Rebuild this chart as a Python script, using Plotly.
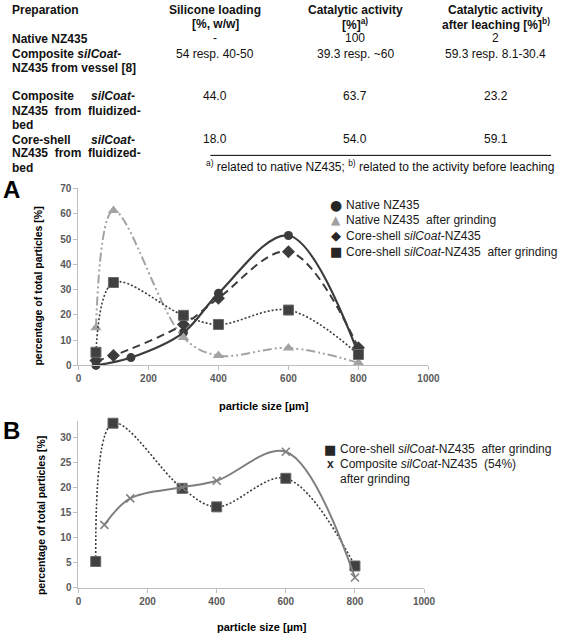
import plotly.graph_objects as go

W, H = 567, 640
FONT = "Arial, 'Liberation Sans', sans-serif"
SYMFONT = "'DejaVu Sans', sans-serif"

# ---------------- data ----------------
# Table
table_header1 = ["Preparation", "Silicone loading", "Catalytic activity", "Catalytic activity"]
table_header2 = ["", "[%, w/w]", "[%]<sup>a)</sup>", "after leaching [%]<sup>b)</sup>"]
silicone_loading = ["-", "54 resp. 40-50", "44.0", "18.0"]
catalytic_activity = ["100", "39.3 resp. ~60", "63.7", "54.0"]
activity_after_leaching = ["2", "59.3 resp. 8.1-30.4", "23.2", "59.1"]
footnote = "<sup>a)</sup> related to native NZ435; <sup>b)</sup> related to the activity before leaching"

# Chart A
native_x = [50, 150, 300, 400, 600, 800]
native_y = [0, 3.1, 13.0, 28.5, 51.4, 4.5]
native_ground_x = [50, 100, 300, 400, 600, 800]
native_ground_y = [14.9, 61.3, 11.0, 3.9, 6.9, 1.0]
coreshell_x = [50, 100, 300, 400, 600, 800]
coreshell_y = [1.9, 3.9, 16.2, 26.6, 45.0, 7.0]
coreshell_ground_x = [50, 100, 300, 400, 600, 800]
coreshell_ground_y = [5.2, 32.8, 19.8, 16.2, 21.9, 4.3]

# Chart B
b_coreshell_ground_x = [50, 100, 300, 400, 600, 800]
b_coreshell_ground_y = [5.2, 32.8, 19.8, 16.1, 21.8, 4.3]
b_composite_ground_x = [75, 150, 300, 400, 600, 800]
b_composite_ground_y = [12.5, 17.8, 20.0, 21.3, 27.1, 2.0]

x_ticks = [0, 200, 400, 600, 800, 1000]
a_y_ticks = [0, 10, 20, 30, 40, 50, 60, 70]
b_y_ticks = [0, 5, 10, 15, 20, 25, 30]

legend_a_names = ["Native NZ435", "Native NZ435  after grinding",
                  "Core-shell <i>silCoat</i>-NZ435", "Core-shell <i>silCoat</i>-NZ435  after grinding"]
legend_b_names = ["Core-shell <i>silCoat</i>-NZ435  after grinding",
                  "Composite <i>silCoat</i>-NZ435  (54%)"]
legend_b_extra = "after grinding"

# ---------------- helpers ----------------
def px(x):
    return x / W

def py(y):
    return 1 - y / H

DARK = "#3c3c3c"
LIGHT = "#a3a3a3"
MID = "#7f7f7f"

fig = go.Figure()

# Chart A traces
fig.add_trace(go.Scatter(x=native_x, y=native_y, mode="lines+markers", name=legend_a_names[0],
                         line=dict(color=DARK, width=2.2, shape="spline", smoothing=1),
                         marker=dict(symbol="circle", size=9, color=DARK),
                         showlegend=False, cliponaxis=False, xaxis="x", yaxis="y"))
fig.add_trace(go.Scatter(x=native_ground_x, y=native_ground_y, mode="lines+markers", name=legend_a_names[1],
                         line=dict(color=LIGHT, width=2, shape="spline", smoothing=1,
                                   dash="9px,3px,2px,3px,2px,3px"),
                         marker=dict(symbol="triangle-up", size=10, color=LIGHT),
                         showlegend=False, cliponaxis=False, xaxis="x", yaxis="y"))
fig.add_trace(go.Scatter(x=coreshell_x, y=coreshell_y, mode="lines+markers", name=legend_a_names[2],
                         line=dict(color=DARK, width=2, shape="spline", smoothing=1, dash="8px,5px"),
                         marker=dict(symbol="diamond", size=10, color=DARK),
                         showlegend=False, cliponaxis=False, xaxis="x", yaxis="y"))
fig.add_trace(go.Scatter(x=coreshell_ground_x, y=coreshell_ground_y, mode="lines+markers", name=legend_a_names[3],
                         line=dict(color=DARK, width=1.6, shape="spline", smoothing=1, dash="2px,2px"),
                         marker=dict(symbol="square", size=10, color="#404040",
                                     line=dict(color="#6a6a6a", width=1)),
                         showlegend=False, cliponaxis=False, xaxis="x", yaxis="y"))

# Chart B traces
fig.add_trace(go.Scatter(x=b_coreshell_ground_x, y=b_coreshell_ground_y, mode="lines+markers",
                         name=legend_b_names[0],
                         line=dict(color=DARK, width=1.6, shape="spline", smoothing=1, dash="2px,2px"),
                         marker=dict(symbol="square", size=10, color="#404040",
                                     line=dict(color="#6a6a6a", width=1)),
                         showlegend=False, cliponaxis=False, xaxis="x2", yaxis="y2"))
fig.add_trace(go.Scatter(x=b_composite_ground_x, y=b_composite_ground_y, mode="lines+markers",
                         name=legend_b_names[1],
                         line=dict(color=MID, width=2, shape="spline", smoothing=1),
                         marker=dict(symbol="x-thin", size=8, color=MID, line=dict(color=MID, width=1.5)),
                         showlegend=False, cliponaxis=False, xaxis="x2", yaxis="y2"))

axis_common = dict(showline=True, linecolor="#bfbfbf", linewidth=1, showgrid=False, zeroline=False,
                   ticks="outside", ticklen=4, tickcolor="#bfbfbf",
                   tickfont=dict(family=FONT, size=10, color="#5a5a5a", weight="bold"))

fig.update_layout(
    width=W, height=H,
    margin=dict(l=0, r=0, t=0, b=0),
    paper_bgcolor="white", plot_bgcolor="white",
    showlegend=False,
    xaxis=dict(domain=[px(77.5), px(437)], range=[0, 1000], tickvals=x_ticks, anchor="y", **axis_common),
    yaxis=dict(domain=[py(366.7), py(186.7)], range=[0, 70], tickvals=a_y_ticks, anchor="x", **axis_common),
    xaxis2=dict(domain=[px(77.5), px(432.5)], range=[0, 1000], tickvals=x_ticks, anchor="y2", **axis_common),
    yaxis2=dict(domain=[py(592.7), py(423.5)], range=[0, 33.2], tickvals=b_y_ticks, anchor="x2", **axis_common),
)

ann = []

def text(x, y, s, size=12, bold=False, anchor="center", color="#111111", family=FONT):
    ann.append(dict(x=px(x), y=py(y), xref="paper", yref="paper", text=s, showarrow=False,
                    xanchor=anchor, yanchor="middle",
                    font=dict(family=family, size=size, color=color, weight="bold" if bold else "normal")))

# Table header
col_x = [7, 218, 362, 506]
text(col_x[0], 5.5, table_header1[0], bold=True, anchor="left")
for i in (1, 2, 3):
    text(col_x[i], 5.5, table_header1[i], bold=True)
    text(col_x[i], 19.5, table_header2[i], bold=True)

# Row labels
text(7, 34.5, "Native NZ435", bold=True, anchor="left")
text(7, 49.5, "Composite <i>silCoat</i>-", bold=True, anchor="left")
text(7, 64, "NZ435 from vessel [8]", bold=True, anchor="left")
text(7, 93, "Composite", bold=True, anchor="left")
text(138, 93, "<i>silCoat</i>-", bold=True, anchor="right")
text(7, 107.5, "NZ435  from  fluidized-", bold=True, anchor="left")
text(7, 122, "bed", bold=True, anchor="left")
text(7, 137, "Core-shell", bold=True, anchor="left")
text(138, 137, "<i>silCoat</i>-", bold=True, anchor="right")
text(7, 151, "NZ435  from  fluidized-", bold=True, anchor="left")
text(7, 165.5, "bed", bold=True, anchor="left")

row_y = [34, 49.5, 92.5, 136.5]
for i, yy in enumerate(row_y):
    text(col_x[1], yy, silicone_loading[i])
    text(col_x[2], yy, catalytic_activity[i])
    text(col_x[3], yy, activity_after_leaching[i])

text(387, 163.5, footnote, anchor="center")

# Panel letters
text(9, 187.5, "A", size=24, bold=True, color="#000000")
text(8.5, 432.5, "B", size=24, bold=True, color="#000000")

# Axis titles
text(268, 408, "particle size [µm]", size=11, bold=True, color="#000000")
text(266, 633, "particle size [µm]", size=11, bold=True, color="#000000")
for (xx, yy) in [(36, 286.5), (39, 519)]:
    ann.append(dict(x=px(xx), y=py(yy), xref="paper", yref="paper",
                    text="percentage of total particles [%]", showarrow=False, textangle=-90,
                    xanchor="center", yanchor="middle",
                    font=dict(family=FONT, size=10.5, color="#000000", weight="bold")))

# Legends (symbol glyph + label)
leg_a_syms = [("\u25cf", "#262626", 14), ("\u25b2", "#a0a0a0", 12), ("\u25c6", "#262626", 13), ("\u25a0", "#262626", 13)]
for k, (name, (g, c, s)) in enumerate(zip(legend_a_names, leg_a_syms)):
    yy = 203 + 16 * k
    text(342, yy, g, size=s, color=c, family=SYMFONT)
    text(350, yy, name, size=12, anchor="left", color="#1a1a1a")

leg_b_syms = [("\u25a0", "#262626", 13), ("x", "#262626", 12)]
for k, (name, (g, c, s)) in enumerate(zip(legend_b_names, leg_b_syms)):
    yy = 452 + 15 * k
    if g == "x":
        text(336, yy, g, size=s, color=c, bold=True)
    else:
        text(336, yy, g, size=s, color=c, family=SYMFONT)
    text(344, yy, name, size=12, anchor="left", color="#1a1a1a")
text(344, 482, legend_b_extra, size=12, anchor="left", color="#1a1a1a")

fig.update_layout(annotations=ann)
fig.add_shape(type="line", xref="paper", yref="paper", x0=px(213), x1=px(563), y0=py(153), y1=py(153),
              line=dict(color="#000000", width=1))

fig.write_html("out.html", config={"displayModeBar": False},
               post_script="document.body.style.margin='0';")
